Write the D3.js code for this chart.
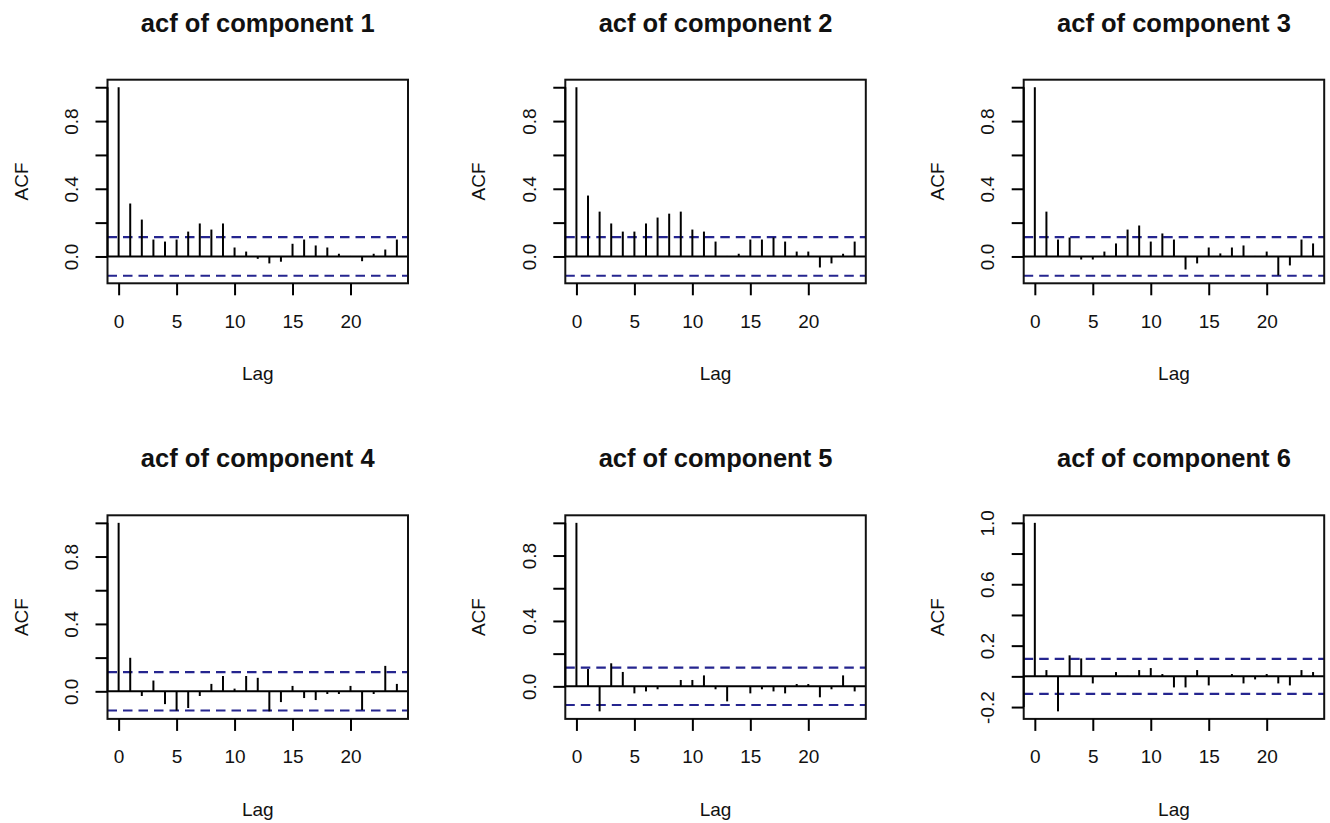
<!DOCTYPE html>
<html>
<head>
<meta charset="utf-8">
<script src="https://cdn.jsdelivr.net/npm/d3@7"></script>
<style>
  html, body { margin: 0; padding: 0; background: #fff; }
  svg { display: block; }
  text { font-family: "Liberation Sans", Arial, sans-serif; fill: #111; }
</style>
</head>
<body>
<svg id="chart" width="1330" height="823"></svg>
<script>
// ---------------- data ----------------
const titles = ["acf of component 1", "acf of component 2", "acf of component 3",
                "acf of component 4", "acf of component 5", "acf of component 6"];
const lags = [0,1,2,3,4,5,6,7,8,9,10,11,12,13,14,15,16,17,18,19,20,21,22,23,24];
const acf1 = [1, 0.313, 0.218, 0.100, 0.088, 0.100, 0.147, 0.195, 0.159, 0.195, 0.053, 0.029, -0.014, -0.041, -0.031, 0.075, 0.100, 0.065, 0.053, 0.016, 0.003, -0.028, 0.016, 0.041, 0.100];
const acf2 = [1, 0.360, 0.265, 0.195, 0.147, 0.147, 0.195, 0.230, 0.253, 0.265, 0.159, 0.147, 0.088, 0.003, 0.016, 0.100, 0.100, 0.112, 0.088, 0.029, 0.029, -0.065, -0.041, 0.016, 0.088];
const acf3 = [1, 0.265, 0.100, 0.112, -0.018, -0.018, 0.029, 0.077, 0.159, 0.183, 0.088, 0.136, 0.100, -0.077, -0.041, 0.053, 0.018, 0.053, 0.065, 0.003, 0.029, -0.112, -0.053, 0.100, 0.077];
const acf4 = [1, 0.199, -0.028, 0.064, -0.076, -0.115, -0.099, -0.028, 0.044, 0.091, 0.016, 0.091, 0.080, -0.119, -0.064, 0.032, -0.040, -0.052, -0.016, -0.016, 0.032, -0.111, -0.016, 0.151, 0.044];
const acf5 = [1, 0.106, -0.153, 0.141, 0.088, -0.043, -0.031, -0.018, 0.002, 0.039, 0.039, 0.067, -0.018, -0.092, 0.002, -0.043, -0.018, -0.031, -0.043, 0.014, 0.014, -0.067, -0.018, 0.067, -0.031];
const acf6 = [1, 0.041, -0.228, 0.137, 0.117, -0.046, 0.002, 0.028, 0.003, 0.041, 0.054, 0.015, -0.072, -0.072, 0.041, -0.059, 0.002, 0.015, -0.046, -0.020, 0.015, -0.046, -0.059, 0.041, 0.028];
const confLimit = 0.114;
const xTicks = [0, 5, 10, 15, 20];
const yTicksStd = [0, 0.2, 0.4, 0.6, 0.8, 1.0];
const yLabelsStd = ["0.0", "", "0.4", "", "0.8", ""];
const yTicks6 = [-0.2, 0, 0.2, 0.4, 0.6, 0.8, 1.0];
const yLabels6 = ["-0.2", "", "0.2", "", "0.6", "", "1.0"];
const xLabel = "Lag";
const yLabel = "ACF";

const series = [acf1, acf2, acf3, acf4, acf5, acf6];
const yTickSets = [yTicksStd, yTicksStd, yTicksStd, yTicksStd, yTicksStd, yTicks6];
const yLabelSets = [yLabelsStd, yLabelsStd, yLabelsStd, yLabelsStd, yLabelsStd, yLabels6];

// ---------------- layout ----------------
const colLeft = [107.5, 565.3, 1023.7];
const rowTop = [79.7, 515.3];
const plotW = 300.5, plotH = 203.6;
const BLUE = "#25258f";
const FONT = '"Liberation Sans", Arial, sans-serif';
const TICK_FS = 19, LAB_FS = 19, TITLE_FS = 25.5;

const svg = d3.select("#chart");

series.forEach((vals, i) => {
  const col = i % 3, row = Math.floor(i / 3);
  const L = colLeft[col], T = rowTop[row];
  const g = svg.append("g").attr("transform", `translate(${L},${T})`);

  // R-style 4% extended ranges
  const xmin = d3.min(lags), xmax = d3.max(lags);
  const xd = (xmax - xmin) * 0.04;
  const x = d3.scaleLinear().domain([xmin - xd, xmax + xd]).range([0, plotW]);
  const ylo = Math.min(d3.min(vals), -confLimit);
  const yhi = Math.max(d3.max(vals), confLimit);
  const yd = (yhi - ylo) * 0.04;
  const y = d3.scaleLinear().domain([ylo - yd, yhi + yd]).range([plotH, 0]);

  // zero line
  g.append("line")
    .attr("x1", 0).attr("x2", plotW)
    .attr("y1", y(0)).attr("y2", y(0))
    .attr("stroke", "#000").attr("stroke-width", 2);

  // confidence limits
  [confLimit, -confLimit].forEach(c => {
    g.append("line")
      .attr("x1", 0).attr("x2", plotW)
      .attr("y1", y(c)).attr("y2", y(c))
      .attr("stroke", BLUE).attr("stroke-width", 2.2)
      .attr("stroke-dasharray", "9.5,6");
  });

  // spikes
  g.selectAll("line.spike").data(lags).enter().append("line")
    .attr("class", "spike")
    .attr("x1", d => x(d)).attr("x2", d => x(d))
    .attr("y1", y(0)).attr("y2", (d, k) => y(vals[k]))
    .attr("stroke", "#000").attr("stroke-width", 2);

  // box
  g.append("rect").attr("x", 0).attr("y", 0).attr("width", plotW).attr("height", plotH)
    .attr("fill", "none").attr("stroke", "#111").attr("stroke-width", 2);

  // x axis
  const xAxis = d3.axisBottom(x).tickValues(xTicks).tickSizeInner(12).tickSizeOuter(0).tickPadding(19);
  const xa = g.append("g").attr("transform", `translate(0,${plotH})`).call(xAxis);
  xa.select(".domain").remove();
  xa.selectAll(".tick line").attr("stroke", "#000").attr("stroke-width", 2);
  xa.selectAll(".tick text").attr("font-size", TICK_FS).attr("fill", "#111").attr("font-family", FONT);

  // y axis
  const yt = yTickSets[i], yl = yLabelSets[i];
  const yAxis = d3.axisLeft(y).tickValues(yt).tickSizeInner(12).tickSizeOuter(0).tickFormat((d, k) => yl[k]);
  const ya = g.append("g").call(yAxis);
  ya.select(".domain").attr("stroke", "#000").attr("stroke-width", 2)
    .attr("d", `M0,${y(yt[0])}V${y(yt[yt.length - 1])}`);
  ya.selectAll(".tick line").attr("stroke", "#000").attr("stroke-width", 2);
  ya.selectAll(".tick text")
    .attr("font-size", TICK_FS).attr("fill", "#111").attr("font-family", FONT)
    .attr("x", null).attr("dy", null)
    .attr("text-anchor", "middle")
    .attr("transform", "translate(-29.5,0) rotate(-90)");

  // axis titles
  g.append("text").attr("x", plotW / 2).attr("y", plotH + 97)
    .attr("text-anchor", "middle").attr("font-size", LAB_FS).text(xLabel);
  g.append("text").attr("transform", `translate(-80,${plotH / 2}) rotate(-90)`)
    .attr("text-anchor", "middle").attr("font-size", LAB_FS).text(yLabel);

  // title
  g.append("text").attr("x", plotW / 2).attr("y", -48)
    .attr("text-anchor", "middle").attr("font-size", TITLE_FS).attr("font-weight", "bold")
    .text(titles[i]);
});
</script>
</body>
</html>
